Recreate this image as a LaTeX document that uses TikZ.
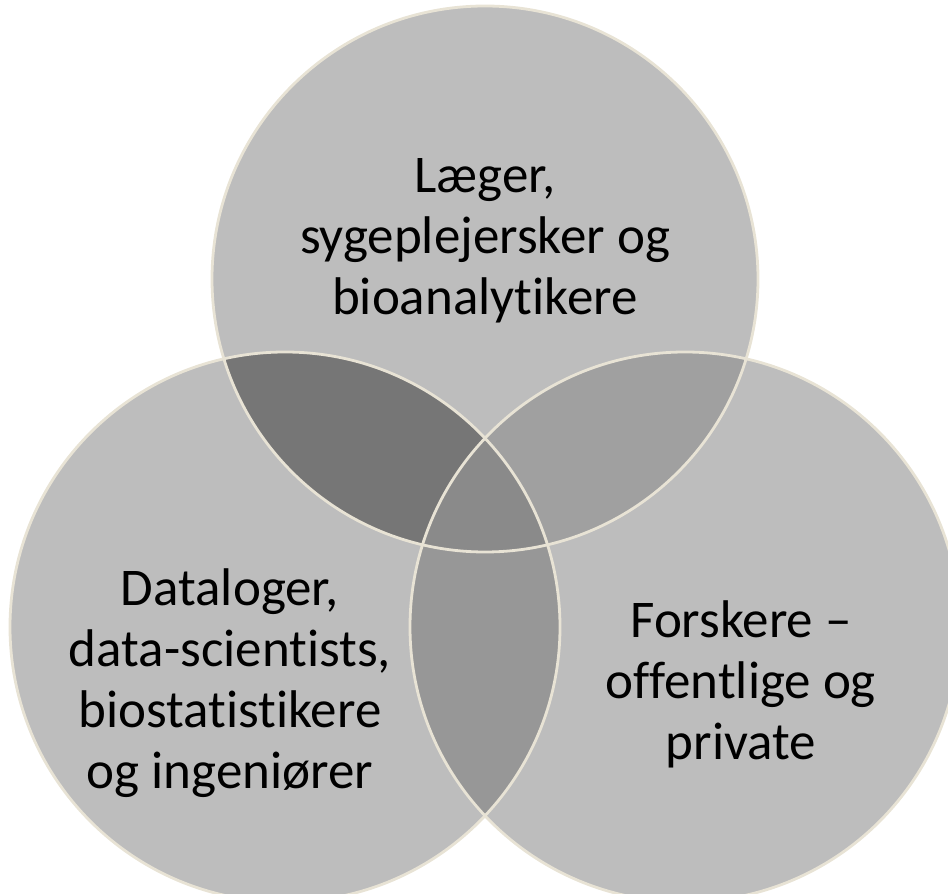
\documentclass[tikz,border=0pt]{standalone}
\usepackage{fontspec}
\setmainfont[Ligatures={NoCommon}]{Carlito}
\definecolor{basefill}{HTML}{BDBDBD}
\definecolor{tlfill}{HTML}{767676}
\definecolor{trfill}{HTML}{A0A0A0}
\definecolor{lrfill}{HTML}{979797}
\definecolor{midfill}{HTML}{8A8A8A}
\definecolor{rim}{HTML}{E8E3D5}
\tikzset{
  rimline/.style={draw=rim, line width=2.8bp},
  label/.style={align=center, font=\fontsize{53bp}{61bp}\selectfont, text=black, inner sep=0pt}
}
\begin{document}
\begin{tikzpicture}[x=1bp,y=1bp]
\useasboundingbox (0,0) rectangle (948,894);
\clip (0,0) rectangle (948,894);
\coordinate (T) at (485,615);
\coordinate (L) at (285,267);
\coordinate (R) at (685,267);
\def\rT{273}
\def\rL{275}
% base fills
\fill[basefill] (T) circle[radius=\rT];
\fill[basefill] (L) circle[radius=\rL];
\fill[basefill] (R) circle[radius=\rL];
% pairwise overlaps
\begin{scope}
  \clip (T) circle[radius=\rT];
  \fill[tlfill] (L) circle[radius=\rL];
\end{scope}
\begin{scope}
  \clip (T) circle[radius=\rT];
  \fill[trfill] (R) circle[radius=\rL];
\end{scope}
\begin{scope}
  \clip (L) circle[radius=\rL];
  \fill[lrfill] (R) circle[radius=\rL];
\end{scope}
\begin{scope}
  \clip (T) circle[radius=\rT];
  \clip (L) circle[radius=\rL];
  \fill[midfill] (R) circle[radius=\rL];
\end{scope}
% outlines
\draw[rimline] (T) circle[radius=\rT];
\draw[rimline] (L) circle[radius=\rL];
\draw[rimline] (R) circle[radius=\rL];
% labels
\node[label] (top) at (485,653) {Læger,\\sygeplejersker og\\bioanalytikere};
\node[label] (left) at (230,211) {Dataloger,\\data-scientists,\\biostatistikere\\og ingeniører};
\node[label] (right) at (741,210) {Forskere –\\offentlige og\\private};
\end{tikzpicture}
\end{document}
